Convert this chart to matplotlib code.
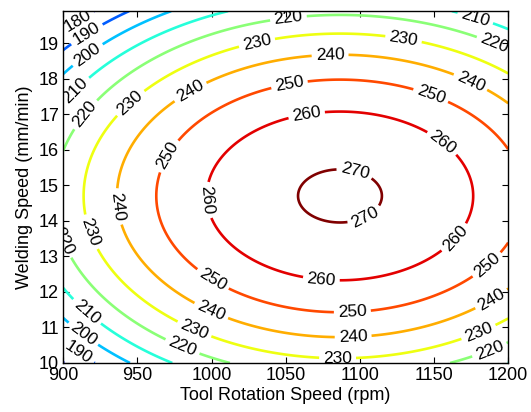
import matplotlib
matplotlib.use("Agg")
import matplotlib.pyplot as plt
from matplotlib.colors import LinearSegmentedColormap
import numpy as np

# response surface (quadratic model)
peak_value = 271.1
peak_speed = 1086.6     # rpm
peak_weld = 14.7        # mm/min
coef_speed = 0.001376
coef_weld = 1.97

levels = [180, 190, 200, 210, 220, 230, 240, 250, 260, 270]
xticks = [900, 950, 1000, 1050, 1100, 1150, 1200]
yticks = [10, 11, 12, 13, 14, 15, 16, 17, 18, 19]

# where the contour labels sit in the reference
label_pos = [
    (908, 19.75),
    (915.5, 19.28), (911.5, 10.37),
    (918, 18.58), (913, 10.79),
    (910, 17.6), (915, 11.4), (1178, 19.73),
    (915.5, 16.97), (906, 13.6), (1052, 19.65), (1190, 18.94), (980, 10.42), (1188, 10.3),
    (946.5, 17.26), (1031, 18.94), (1129, 19.0), (917, 13.66), (987.6, 10.87), (1085, 10.14), (1180, 10.87),
    (987, 17.54), (1080, 18.58), (1173.7, 17.82), (935, 14.39), (1000, 11.49), (1095.5, 10.73), (1190, 11.7),
    (973.5, 15.76), (1053, 17.73), (1147.4, 17.48), (1000.5, 12.33), (1095, 11.4), (1187, 12.7),
    (1064.5, 16.89), (1155.5, 16.19), (997, 14.58), (1074, 12.33), (1165.6, 13.46),
    (1096, 15.29), (1103.6, 14.1),
]

x = np.linspace(900, 1200, 301)
y = np.linspace(10, 19.9, 300)
X, Y = np.meshgrid(x, y)
Z = peak_value - coef_speed * (X - peak_speed) ** 2 - coef_weld * (Y - peak_weld) ** 2

# matlab style jet
mjet = LinearSegmentedColormap.from_list('mjet', [
    (0.0, (0, 0, 0.5)), (0.125, (0, 0, 1)), (0.375, (0, 1, 1)),
    (0.625, (1, 1, 0)), (0.875, (1, 0, 0)), (1.0, (0.5, 0, 0))])

plt.rcParams['font.family'] = ['Liberation Sans', 'DejaVu Sans']

fig = plt.figure(figsize=(5.31, 4.12), dpi=100)
ax = fig.add_axes([0.119, 0.119, 0.838, 0.854])

cs = ax.contour(X, Y, Z, levels=levels, cmap=mjet, vmin=168, vmax=270,
                linewidths=1.9)
texts = ax.clabel(cs, fmt='%d', fontsize=12.5, colors='k', inline=True,
                  inline_spacing=4, manual=label_pos)
for t in texts:
    t.set_clip_on(True)

ax.set_xlim(900, 1200)
ax.set_ylim(10, 19.9)
ax.set_xticks(xticks)
ax.set_yticks(yticks)
ax.tick_params(direction='in', length=4, top=True, right=True, labelsize=13, pad=3)
for s in ax.spines.values():
    s.set_linewidth(1.0)

ax.set_xlabel("Tool Rotation Speed (rpm)", fontsize=13, labelpad=2)
ax.set_ylabel("Welding Speed (mm/min)", fontsize=13, labelpad=4)

fig.savefig("out.png", dpi=100)
